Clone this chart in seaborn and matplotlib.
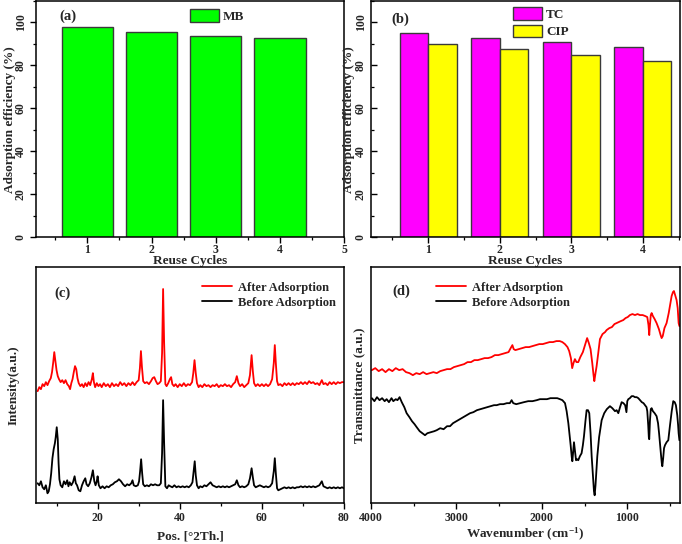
import numpy as np
import pandas as pd
import matplotlib
matplotlib.use("Agg")
import matplotlib.pyplot as plt
from matplotlib.ticker import MultipleLocator
import seaborn as sns

# ---------------- data ----------------
cycles = [1, 2, 3, 4]
mb_eff = [98.0, 95.8, 93.9, 92.7]
tc_eff = [95.0, 93.0, 91.0, 88.8]
cip_eff = [89.9, 87.7, 84.9, 82.0]

xrd_after_x = [5.4, 5.8, 6.2, 6.6, 7.0, 7.4, 7.8, 8.2, 8.6, 8.9, 9.2, 9.45, 9.7, 10.0, 10.3, 10.6, 11.0, 11.4, 11.8, 12.2,
               12.6, 13.0, 13.3, 13.6, 13.9, 14.2, 14.5, 14.8, 15.1, 15.4, 15.8, 16.2, 16.6, 17.0, 17.4, 17.8, 18.2, 18.6,
               18.85, 19.1, 19.4, 19.8, 20.2, 20.6, 21.0, 21.5, 22.0, 22.5, 23.0, 23.5, 24.0, 24.5, 25.0, 25.5, 26.0,
               26.5, 27.0, 27.5, 28.0, 28.5, 29.0, 29.5, 30.0, 30.3, 30.55, 30.8, 31.1, 31.5, 32.0, 32.5, 33.0, 33.4,
               33.8, 34.2, 34.6, 35.0, 35.4, 35.7, 35.95, 36.2, 36.5, 36.8, 37.2, 37.6, 37.9, 38.2, 38.6, 39.0, 39.5,
               40.0, 40.5, 41.0, 41.5, 42.0, 42.5, 43.0, 43.3, 43.6, 43.9, 44.2, 44.6, 45.0, 45.5, 46.0, 46.5, 47.0,
               47.5, 48.0, 48.5, 49.0, 49.5, 50.0, 50.5, 51.0, 51.5, 52.0, 52.5, 53.0, 53.5, 53.9, 54.3, 54.7, 55.2,
               55.7, 56.2, 56.7, 57.1, 57.5, 57.8, 58.1, 58.5, 59.0, 59.5, 60.0, 60.5, 61.0, 61.5, 62.0, 62.5, 62.9,
               63.15, 63.4, 63.7, 64.0, 64.5, 65.0, 65.5, 66.0, 66.5, 67.0, 67.5, 68.0, 68.5, 69.0, 69.5, 70.0, 70.5,
               71.0, 71.5, 72.0, 72.5, 73.0, 73.5, 74.0, 74.6, 75.0, 75.5, 76.0, 76.5, 77.0, 77.5, 78.0, 78.5, 79.0,
               79.5, 80.0]
xrd_after_y = [112, 116, 114, 119, 117, 121, 118, 122, 125, 131, 141, 151, 143, 133, 127, 124, 121, 123, 120, 123,
               119, 117, 114, 120, 124, 131, 137, 134, 125, 120, 117, 119, 116, 120, 117, 121, 118, 124,
               130, 121, 116, 120, 117, 119, 116, 120, 117, 119, 116, 120, 117, 119, 117, 121, 118,
               120, 117, 120, 118, 121, 118, 121, 123, 135, 152, 136, 122, 120, 121, 119, 122, 125,
               126, 122, 119, 120, 122, 150, 214, 160, 119, 117, 120, 124, 126, 119, 117, 119, 116,
               119, 117, 120, 117, 119, 118, 121, 130, 143, 130, 120, 116, 118, 116, 119, 117, 118,
               116, 118, 117, 119, 116, 118, 117, 119, 117, 118, 116, 119, 121, 127, 120, 117, 119,
               116, 118, 120, 128, 148, 132, 120, 117, 119, 117, 119, 117, 119, 117, 119, 124, 140,
               158, 140, 122, 118, 119, 117, 120, 118, 120, 118, 120, 118, 120, 119, 121, 119, 121,
               119, 122, 120, 121, 119, 120, 118, 123, 119, 120, 118, 121, 119, 121, 119, 121, 120,
               121, 121]

xrd_before_x = [5.4, 5.8, 6.2, 6.6, 7.0, 7.4, 7.8, 8.1, 8.4, 8.7, 9.0, 9.3, 9.6, 9.8, 10.05, 10.3, 10.5, 10.7, 11.0,
                11.4, 11.8, 12.2, 12.6, 12.9, 13.2, 13.6, 14.0, 14.4, 14.7, 15.0, 15.4, 15.8, 16.2, 16.6, 17.0, 17.3,
                17.7, 18.1, 18.5, 18.85, 19.2, 19.5, 19.8, 20.0, 20.3, 20.7, 21.2, 21.7, 22.2, 22.7, 23.2, 23.7, 24.2,
                24.7, 25.2, 25.7, 26.2, 26.7, 27.2, 27.7, 28.2, 28.5, 28.8, 29.3, 29.8, 30.1, 30.35, 30.6, 30.85, 31.1,
                31.5, 32.0, 32.5, 33.0, 33.5, 34.0, 34.5, 35.0, 35.4, 35.7, 35.95, 36.2, 36.5, 36.9, 37.3, 37.7, 38.2,
                38.7, 39.2, 39.7, 40.2, 40.7, 41.2, 41.7, 42.2, 42.7, 43.1, 43.4, 43.65, 43.9, 44.2, 44.6, 45.0, 45.5,
                46.0, 46.5, 47.0, 47.5, 48.0, 48.5, 49.0, 49.5, 50.0, 50.5, 51.0, 51.5, 52.0, 52.5, 53.0, 53.5, 53.9,
                54.3, 54.7, 55.2, 55.7, 56.2, 56.7, 57.1, 57.5, 57.8, 58.1, 58.5, 59.0, 59.5, 60.0, 60.5, 61.0, 61.5,
                62.0, 62.5, 62.9, 63.15, 63.4, 63.7, 64.0, 64.5, 65.0, 65.5, 66.0, 66.5, 67.0, 67.5, 68.0, 68.5, 69.0,
                69.5, 70.0, 70.5, 71.0, 71.5, 72.0, 72.5, 73.0, 73.5, 74.0, 74.6, 75.0, 75.5, 76.0, 76.5, 77.0, 77.5,
                78.0, 78.5, 79.0, 79.5, 80.0]
xrd_before_y = [20, 18, 22, 16, 14, 18, 10, 12, 19, 30, 45, 54, 60, 66, 76, 64, 40, 24, 18,
                16, 22, 19, 23, 17, 21, 18, 21, 27, 20, 18, 13, 12, 18, 22, 25, 19,
                17, 20, 26, 33, 22, 18, 22, 27, 18, 15, 17, 15, 17, 16, 18, 19, 21,
                22, 24, 22, 19, 17, 19, 18, 20, 23, 18, 17, 18, 22, 32, 44, 30, 19,
                17, 18, 17, 19, 18, 19, 18, 18, 20, 50, 103, 60, 17, 15, 18, 17, 16,
                18, 16, 17, 16, 17, 16, 17, 16, 18, 21, 32, 42, 28, 18, 15, 17, 16,
                18, 17, 19, 21, 18, 17, 16, 17, 16, 17, 16, 17, 16, 17, 18, 19, 23,
                18, 16, 17, 16, 17, 19, 25, 35, 26, 18, 16, 17, 18, 17, 16, 17, 16,
                17, 20, 32, 45, 30, 15, 13, 14, 15, 16, 15, 16, 15, 16, 15, 16, 16,
                17, 16, 17, 16, 17, 16, 17, 16, 17, 18, 22, 17, 16, 15, 16, 15, 16,
                15, 16, 15, 16, 15]

ftir_after_x = [3990, 3950, 3910, 3870, 3830, 3790, 3750, 3710, 3670, 3630, 3590, 3550, 3510, 3470, 3430, 3390, 3350,
                3310, 3270, 3230, 3190, 3150, 3110, 3070, 3030, 2990, 2950, 2910, 2870, 2830, 2790, 2750, 2710, 2670,
                2630, 2590, 2550, 2510, 2470, 2430, 2390, 2365, 2345, 2330, 2310, 2270, 2230, 2190, 2150, 2110, 2070,
                2030, 1990, 1950, 1910, 1870, 1830, 1790, 1760, 1730, 1700, 1680, 1660, 1645, 1630, 1613, 1595, 1574,
                1550, 1520, 1495, 1470, 1450, 1430, 1410, 1395, 1386, 1372, 1359, 1340, 1320, 1290, 1260, 1242, 1210,
                1180, 1150, 1125, 1100, 1075, 1047, 1020, 995, 969, 940, 910, 880, 852, 820, 790, 766, 752, 743, 735,
                725, 715, 700, 680, 657, 630, 610, 598, 585, 565, 540, 515, 495, 481, 465, 454, 440, 423, 410, 399, 390]
ftir_after_y = [133, 135, 132, 134, 131, 134, 132, 135, 133, 134, 131, 130, 128, 130, 129, 131, 129,
                130, 131, 130, 132, 133, 134, 134, 136, 137, 138, 139, 141, 141, 143, 143, 144, 145,
                145, 146, 148, 148, 149, 150, 151, 155, 158, 154, 153, 154, 155, 156, 156, 157, 158,
                159, 159, 160, 161, 161, 162, 162, 161, 159, 156, 152, 145, 135, 140, 144, 141, 141,
                146, 151, 158, 165, 160, 154, 140, 128, 122, 130, 137, 150, 164, 169, 171, 173, 175,
                176, 179, 180, 181, 182, 183, 185, 186, 188, 189, 188, 189, 188, 188, 187, 186, 178, 168, 178,
                188, 190, 187, 184, 180, 174, 168, 165, 167, 175, 180, 190, 200, 207, 211, 212, 208, 203, 195, 180, 177]

ftir_before_x = [3990, 3960, 3930, 3900, 3870, 3840, 3817, 3790, 3760, 3739, 3710, 3690, 3665, 3640, 3610, 3583, 3550,
                 3520, 3490, 3465, 3430, 3400, 3368, 3340, 3300, 3260, 3231, 3190, 3150, 3110, 3075, 3040, 3000, 2960,
                 2920, 2880, 2840, 2802, 2760, 2720, 2680, 2640, 2600, 2560, 2529, 2490, 2450, 2410, 2375, 2354, 2335,
                 2300, 2256, 2210, 2160, 2110, 2060, 2022, 1980, 1940, 1900, 1860, 1820, 1788, 1760, 1729, 1710, 1690,
                 1675, 1663, 1650, 1643, 1633, 1624, 1612, 1600, 1587, 1574, 1555, 1535, 1520, 1507, 1490, 1476, 1460,
                 1445, 1430, 1417, 1400, 1390, 1382, 1372, 1360, 1351, 1330, 1300, 1270, 1240, 1203, 1175, 1144, 1125,
                 1105, 1085, 1066, 1045, 1025, 1010, 1000, 988, 970, 949, 930, 910, 890, 871, 850, 830, 810, 793, 775,
                 766, 755, 748, 743, 735, 725, 715, 700, 680, 657, 640, 628, 618, 605, 596, 590, 580, 570, 559, 540,
                 520, 500, 480, 462, 445, 431, 415, 405, 399, 390]
ftir_before_y = [105, 102, 106, 103, 105, 102, 104, 101, 105, 102, 104, 103, 106, 101, 96, 90, 86,
                 82, 79, 76, 72, 70, 68, 70, 71, 72, 73, 75, 74, 77, 77, 80, 82, 84,
                 86, 88, 90, 91, 93, 94, 95, 96, 97, 98, 98, 99, 99, 100, 100, 103, 100,
                 99, 100, 101, 102, 102, 103, 104, 104, 104, 105, 105, 105, 104, 103, 100, 92, 80,
                 68, 58, 46, 42, 52, 61, 52, 43, 44, 43, 47, 50, 58, 67, 82, 93, 93,
                 90, 70, 47, 25, 12, 8, 18, 35, 47, 66, 83, 90, 94, 97, 95, 92, 93,
                 90, 96, 101, 100, 98, 91, 102, 104, 105, 107, 107, 106, 106, 105, 103, 101, 100, 98, 96,
                 92, 78, 66, 64, 82, 94, 95, 92, 90, 87, 80, 70, 60, 48, 40, 37, 45, 55, 58, 61,
                 63, 78, 92, 102, 101, 98, 88, 78, 70, 63]

# ---------------- style ----------------
sns.set_theme(style="ticks")
plt.rcParams['font.family'] = ['Liberation Serif', 'DejaVu Serif']
plt.rcParams['font.weight'] = 'bold'
plt.rcParams['axes.labelweight'] = 'bold'
plt.rcParams['mathtext.fontset'] = 'custom'
plt.rcParams['mathtext.rm'] = 'Liberation Serif:bold'
plt.rcParams['mathtext.default'] = 'regular'

W, H = 682, 544
fig = plt.figure(figsize=(W / 100, H / 100), dpi=100)


def px_axes(l, t, r, b):
    return fig.add_axes([l / W, 1 - b / H, (r - l) / W, (b - t) / H])


axA = px_axes(36, 1, 344, 237.3)
axB = px_axes(371, 1, 680, 237.3)
axC = px_axes(36, 267, 344, 503.3)
axD = px_axes(371, 267, 680, 503.3)

TFS = 8.5
LFS = 9.5
LEG = 9.0


def style_axis(ax):
    for s in ax.spines.values():
        s.set_visible(True)
        s.set_color('black')
        s.set_linewidth(1.1)
    ax.tick_params(which='major', direction='out', length=4, width=1, color='black',
                   labelsize=TFS, pad=2)
    ax.tick_params(which='minor', direction='out', length=2.5, width=0.9, color='black')
    for lab in ax.get_xticklabels() + ax.get_yticklabels():
        lab.set_fontweight('bold')


edge = '#3a3a3a'

# (a)
dfa = pd.DataFrame({'cycle': cycles, 'eff': mb_eff, 'dye': ['MB'] * len(cycles)})
sns.barplot(data=dfa, x='cycle', y='eff', hue='dye', palette={'MB': '#00ff00'}, saturation=1,
            native_scale=True, width=0.8, edgecolor=edge, linewidth=1.0, ax=axA, legend=True)
axA.set_xlim(0.2, 5)
axA.set_ylim(0, 110)
axA.set_xticks([1, 2, 3, 4, 5])
axA.xaxis.set_minor_locator(MultipleLocator(0.5))
axA.set_yticks([0, 20, 40, 60, 80, 100])
axA.yaxis.set_minor_locator(MultipleLocator(10))
style_axis(axA)
axA.tick_params(axis='y', labelrotation=90, pad=2.5)
axA.tick_params(axis='x', pad=1)
for lab in axA.get_yticklabels():
    lab.set_va('center')
axA.set_xlabel('Reuse Cycles', fontsize=LFS, fontweight='bold')
axA.set_ylabel('Adsorption efficiency (%)', fontsize=LFS, fontweight='bold')
axA.xaxis.set_label_coords(0.5, -0.074)
axA.yaxis.set_label_coords(-0.066, 0.5)
axA.legend(loc='upper left', bbox_to_anchor=(190 / W, 1 - 9.5 / H), bbox_transform=fig.transFigure,
           frameon=False, handlelength=2.2, handleheight=1.1, handletextpad=0.3,
           borderpad=0, borderaxespad=0, title=None,
           prop={'weight': 'bold', 'size': LFS})

# (b)
dfb = pd.DataFrame({'cycle': cycles * 2, 'eff': tc_eff + cip_eff,
                    'dye': ['TC'] * len(cycles) + ['CIP'] * len(cycles)})
sns.barplot(data=dfb, x='cycle', y='eff', hue='dye', palette={'TC': '#ff00ff', 'CIP': '#ffff00'},
            saturation=1, native_scale=True, width=0.8, edgecolor=edge, linewidth=1.0, ax=axB, legend=True)
axB.set_xlim(0.2, 4.52)
axB.set_ylim(0, 110)
axB.set_xticks([1, 2, 3, 4])
axB.xaxis.set_minor_locator(MultipleLocator(0.5))
axB.set_yticks([0, 20, 40, 60, 80, 100])
axB.yaxis.set_minor_locator(MultipleLocator(10))
style_axis(axB)
axB.tick_params(axis='y', which='both', direction='in')
axB.tick_params(axis='y', labelrotation=90, pad=3)
axB.tick_params(axis='x', pad=1)
for lab in axB.get_yticklabels():
    lab.set_va('center')
axB.set_xlabel('Reuse Cycles', fontsize=LFS, fontweight='bold')
axB.set_ylabel('Adsorption efficiency (%)', fontsize=LFS, fontweight='bold')
axB.xaxis.set_label_coords(0.5, -0.074)
axB.yaxis.set_label_coords(-0.052, 0.5)
axB.legend(loc='upper left', bbox_to_anchor=(513 / W, 1 - 7.5 / H), bbox_transform=fig.transFigure,
           frameon=False, handlelength=2.2, handleheight=1.1, handletextpad=0.3,
           labelspacing=0.25, borderpad=0, borderaxespad=0, title=None,
           prop={'weight': 'bold', 'size': LFS})

# (c)
dfc = pd.concat([
    pd.DataFrame({'x': xrd_after_x, 'y': xrd_after_y, 's': 'After Adsorption'}),
    pd.DataFrame({'x': xrd_before_x, 'y': xrd_before_y, 's': 'Before Adsorption'}),
])
sns.lineplot(data=dfc, x='x', y='y', hue='s', sort=False, estimator=None,
             palette={'After Adsorption': '#ff0000', 'Before Adsorption': '#000000'},
             linewidth=1.3, ax=axC)
axC.set_xlim(5, 80)
axC.set_ylim(0, 236)
axC.set_xticks([20, 40, 60, 80])
axC.xaxis.set_minor_locator(MultipleLocator(10))
axC.set_yticks([])
style_axis(axC)
axC.set_xlabel('Pos. [°2Th.]', fontsize=LFS, fontweight='bold')
axC.set_ylabel('Intensity(a.u.)', fontsize=LFS, fontweight='bold')
axC.xaxis.set_label_coords(0.5, -0.115)
axC.yaxis.set_label_coords(-0.052, 0.5)
axC.legend(loc='upper left', bbox_to_anchor=(202 / W, 1 - 281.5 / H), bbox_transform=fig.transFigure,
           frameon=False, handlelength=2.4, handletextpad=0.5, labelspacing=0.25,
           borderpad=0, borderaxespad=0, title=None,
           prop={'weight': 'bold', 'size': LEG})

# (d)
dfd = pd.concat([
    pd.DataFrame({'x': ftir_after_x, 'y': ftir_after_y, 's': 'After Adsorption'}),
    pd.DataFrame({'x': ftir_before_x, 'y': ftir_before_y, 's': 'Before Adsorption'}),
])
sns.lineplot(data=dfd, x='x', y='y', hue='s', sort=False, estimator=None,
             palette={'After Adsorption': '#ff0000', 'Before Adsorption': '#000000'},
             linewidth=1.3, ax=axD)
axD.set_xlim(4000, 383)
axD.set_ylim(0, 236)
axD.set_xticks([4000, 3000, 2000, 1000])
axD.xaxis.set_minor_locator(MultipleLocator(500))
axD.set_yticks([])
style_axis(axD)
axD.set_xlabel('Wavenumber (cm$^{-1}$)', fontsize=LFS, fontweight='bold')
axD.set_ylabel('Transmittance (a.u.)', fontsize=LFS, fontweight='bold')
axD.xaxis.set_label_coords(0.5, -0.098)
axD.yaxis.set_label_coords(-0.02, 0.5)
axD.legend(loc='upper left', bbox_to_anchor=(436 / W, 1 - 281.5 / H), bbox_transform=fig.transFigure,
           frameon=False, handlelength=2.4, handletextpad=0.5, labelspacing=0.25,
           borderpad=0, borderaxespad=0, title=None,
           prop={'weight': 'bold', 'size': LEG})

# panel labels
for txt, x, y in [('(a)', 59, 16), ('(b)', 391, 19), ('(c)', 54, 293), ('(d)', 392, 291)]:
    fig.text(x / W, 1 - y / H, txt, fontsize=10.5, fontweight='bold', ha='left', va='center')

fig.savefig('out.png', dpi=100)
